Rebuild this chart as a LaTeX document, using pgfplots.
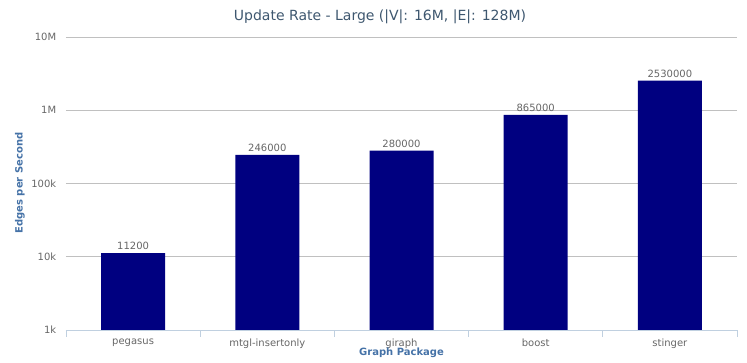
\documentclass[border=0pt]{standalone}
\usepackage{fontspec}
\setmainfont{DejaVu Sans}
\usepackage{pgfplots}
\pgfplotsset{compat=1.18}
\definecolor{barc}{HTML}{000080}
\definecolor{titlec}{HTML}{3E576F}
\definecolor{axtitle}{HTML}{4572A7}
\definecolor{tickc}{HTML}{666666}
\definecolor{gridc}{HTML}{C0C0C0}
\definecolor{axlinec}{HTML}{C0D0E0}
\begin{document}
\begin{tikzpicture}
\useasboundingbox (-66pt,-32pt) rectangle (681pt,330pt);
\begin{axis}[
  at={(0pt,0pt)}, anchor=south west,
  scale only axis, width=671pt, height=293pt,
  ymode=log, ymin=1000, ymax=1e7, log origin=infty,
  xmin=-0.5, xmax=4.5,
  ybar, bar width=64pt,
  xtick={0,1,2,3,4},
  xticklabels={pegasus,mtgl-insertonly,giraph,boost,stinger},
  minor xtick={-0.5,0.5,1.5,2.5,3.5,4.5},
  major x tick style={draw=none},
  minor x tick style={draw=axlinec, line width=0.8pt},
  minor tick length=7pt,
  tick align=outside,
  ytick={1000,10000,100000,1000000,10000000},
  yticklabels={1k,10k,100k,1M,10M},
  y tick style={draw=none},
  ymajorgrids, grid style={draw=gridc, line width=0.8pt},
  axis x line*=bottom, axis y line*=left,
  x axis line style={draw=axlinec, line width=0.8pt, -},
  y axis line style={draw=none},
  tick label style={font=\fontsize{10}{12}\selectfont, text=tickc},
  xticklabel style={yshift=-1pt},
  yticklabel style={xshift=-2pt},
  /pgf/number format/assume math mode=true,
  point meta=explicit symbolic,
  nodes near coords,
  nodes near coords style={font=\fontsize{10}{12}\selectfont, text=tickc, yshift=0pt},
  clip=false,
]
\addplot[fill=barc, draw=none] coordinates {
  (0,11200) [11200]
  (1,246000) [246000]
  (2,280000) [280000]
  (3,865000) [865000]
  (4,2530000) [2530000]
};
\end{axis}
\node[text=titlec, font=\fontsize{14}{16}\selectfont] at (314pt,313pt) {Update Rate - Large (|V|: 16M, |E|: 128M)};
\node[text=axtitle, font=\bfseries\fontsize{10}{12}\selectfont, rotate=90] at (-46pt,147pt) {Edges per Second};
\node[text=axtitle, font=\bfseries\fontsize{10}{12}\selectfont] at (335.5pt,-23pt) {Graph Package};
\end{tikzpicture}
\end{document}
